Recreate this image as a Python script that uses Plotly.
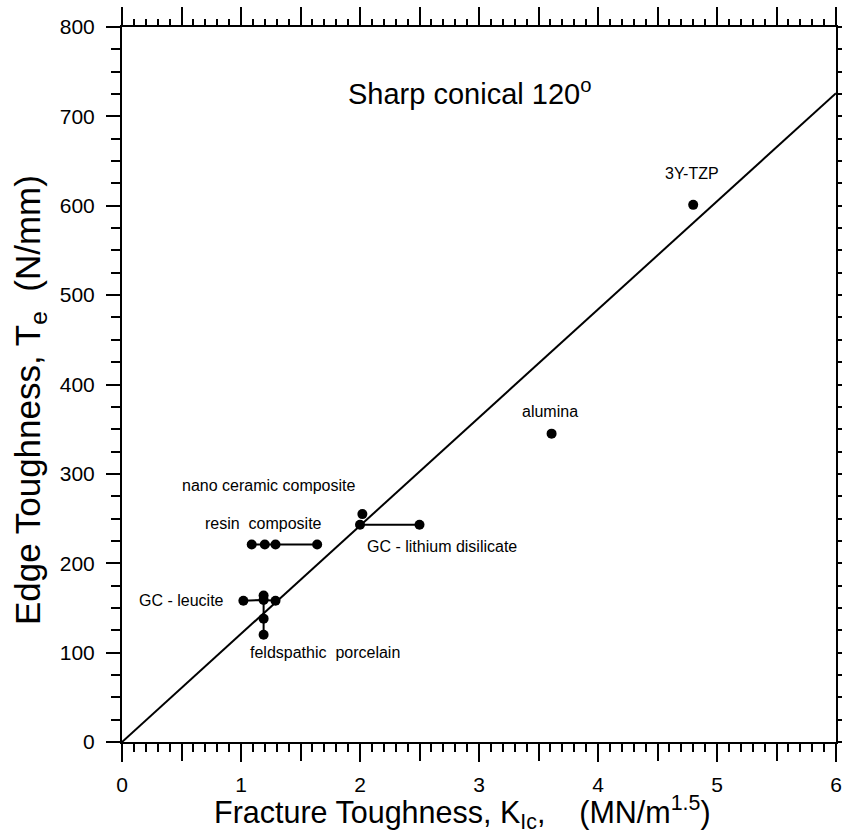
import plotly.graph_objects as go

# Material groups: fracture toughness K_Ic (MN/m^1.5) vs edge toughness T_e (N/mm)
resin_x = [1.09, 1.20, 1.29, 1.64]
resin_y = [221, 221, 221, 221]

lithium_x = [2.00, 2.50]
lithium_y = [243, 243]

nano_x = [2.02]
nano_y = [255]

leucite_x = [1.02, 1.19, 1.29]
leucite_y = [158, 159, 158]

feldspathic_x = [1.19, 1.19, 1.19]
feldspathic_y = [164, 138, 120]

alumina_x = [3.61]
alumina_y = [345]

tzp_x = [4.80]
tzp_y = [601]

# Proportional fit T_e = slope * K_Ic
fit_x = [0, 6]
fit_slope = 121.0

x_label_vals = [0, 1, 2, 3, 4, 5, 6]
x_labels = ["0", "1", "2", "3", "4", "5", "6"]
x_half_vals = [0.5, 1.5, 2.5, 3.5, 4.5, 5.5]
y_major = [0, 100, 200, 300, 400, 500, 600, 700, 800]
y_labels = ["0", "100", "200", "300", "400", "500", "600", "700", "800"]

FONT = "Arial, Liberation Sans, Helvetica, sans-serif"
BLACK = "#000000"

fig = go.Figure()

fig.add_trace(go.Scatter(
    x=fit_x, y=[fit_slope * v for v in fit_x], mode="lines",
    line=dict(color=BLACK, width=2), hoverinfo="skip", showlegend=False))

groups = [
    (resin_x, resin_y, "lines+markers"),
    (lithium_x, lithium_y, "lines+markers"),
    (nano_x, nano_y, "markers"),
    (leucite_x, leucite_y, "lines+markers"),
    (feldspathic_x, feldspathic_y, "lines+markers"),
    (alumina_x, alumina_y, "markers"),
    (tzp_x, tzp_y, "markers"),
]
for gx, gy, mode in groups:
    fig.add_trace(go.Scatter(
        x=gx, y=gy, mode=mode,
        line=dict(color=BLACK, width=2),
        marker=dict(color=BLACK, size=10),
        showlegend=False))

# invisible traces so the extra tick axes are drawn
for xa, ya in (("x2", "y2"), ("x3", "y")):
    fig.add_trace(go.Scatter(x=[0], y=[0], xaxis=xa, yaxis=ya, mode="markers",
                             marker=dict(opacity=0), hoverinfo="skip", showlegend=False))

tick_common = dict(showgrid=False, zeroline=False, tickcolor=BLACK)

fig.update_layout(
    width=842, height=840,
    margin=dict(l=122, r=6, t=27, b=98, autoexpand=False),
    paper_bgcolor="white", plot_bgcolor="white",
    font=dict(family=FONT, color=BLACK),
    xaxis=dict(
        range=[0, 6], showline=True, linecolor=BLACK, linewidth=2,
        tickmode="array", tickvals=x_label_vals, ticktext=x_labels,
        ticks="outside", ticklen=18, tickwidth=2,
        tickfont=dict(size=21, family=FONT, color=BLACK),
        ticklabelstandoff=5,
        minor=dict(dtick=0.1, tick0=0, ticks="outside", ticklen=8,
                   tickwidth=1.5, tickcolor=BLACK, showgrid=False),
        **tick_common,
    ),
    # long unlabelled ticks at the half units along the bottom
    xaxis3=dict(
        range=[0, 6], overlaying="x", side="bottom", anchor="y",
        showline=False, tickmode="array", tickvals=x_half_vals,
        showticklabels=False, ticks="outside", ticklen=18, tickwidth=2,
        **tick_common,
    ),
    yaxis=dict(
        range=[0, 800], showline=True, linecolor=BLACK, linewidth=2,
        tickmode="array", tickvals=y_major, ticktext=y_labels,
        ticks="outside", ticklen=14, tickwidth=2,
        tickfont=dict(size=21, family=FONT, color=BLACK),
        ticklabelstandoff=7,
        minor=dict(dtick=25, tick0=0, ticks="outside", ticklen=9,
                   tickwidth=1.5, tickcolor=BLACK, showgrid=False),
        **tick_common,
    ),
    xaxis2=dict(
        range=[0, 6], overlaying="x", side="top", anchor="y",
        showline=True, linecolor=BLACK, linewidth=2,
        tickmode="linear", tick0=0, dtick=0.5, showticklabels=False,
        ticks="outside", ticklen=18, tickwidth=2,
        minor=dict(dtick=0.1, tick0=0, ticks="outside", ticklen=6,
                   tickwidth=1.5, tickcolor=BLACK, showgrid=False),
        **tick_common,
    ),
    yaxis2=dict(
        range=[0, 800], overlaying="y", side="right", anchor="x",
        showline=True, linecolor=BLACK, linewidth=2,
        tickmode="linear", tick0=0, dtick=25, showticklabels=False,
        ticks="outside", ticklen=6, tickwidth=1.5,
        **tick_common,
    ),
)

NB = "\u00a0"
ann_font = dict(size=16, family=FONT, color=BLACK)
labels = [
    (2.92, 727, "Sharp conical 120<sup>o</sup>", "center", dict(size=29, family=FONT, color=BLACK)),
    (4.79, 636, "3Y-TZP", "center", ann_font),
    (3.60, 370, "alumina", "center", ann_font),
    (1.235, 287.5, "nano ceramic composite", "center", ann_font),
    (1.19, 245, "resin" + NB + NB + "composite", "center", ann_font),
    (2.04, 219, "GC - lithium disilicate", "left", ann_font),
    (0.50, 158, "GC - leucite", "center", ann_font),
    (1.71, 99.6, "feldspathic" + NB + NB + "porcelain", "center", ann_font),
]
for ax, ay, txt, anchor, f in labels:
    fig.add_annotation(x=ax, y=ay, xref="x", yref="y", text=txt, showarrow=False,
                       xanchor=anchor, yanchor="middle", font=f)

# axis titles
fig.add_annotation(
    x=0.477, y=-0.099, xref="paper", yref="paper", showarrow=False,
    xanchor="center", yanchor="middle",
    text="Fracture Toughness, K<sub>Ic</sub>," + NB * 4 + "(MN/m<sup>1.5</sup>)",
    font=dict(size=30.5, family=FONT, color=BLACK))
fig.add_annotation(
    x=-0.129, y=0.478, xref="paper", yref="paper", showarrow=False,
    xanchor="center", yanchor="middle", textangle=-90,
    text="Edge Toughness, T<sub>e</sub>" + NB * 2 + "(N/mm)",
    font=dict(size=35, family=FONT, color=BLACK))

fig.write_html("out.html")
